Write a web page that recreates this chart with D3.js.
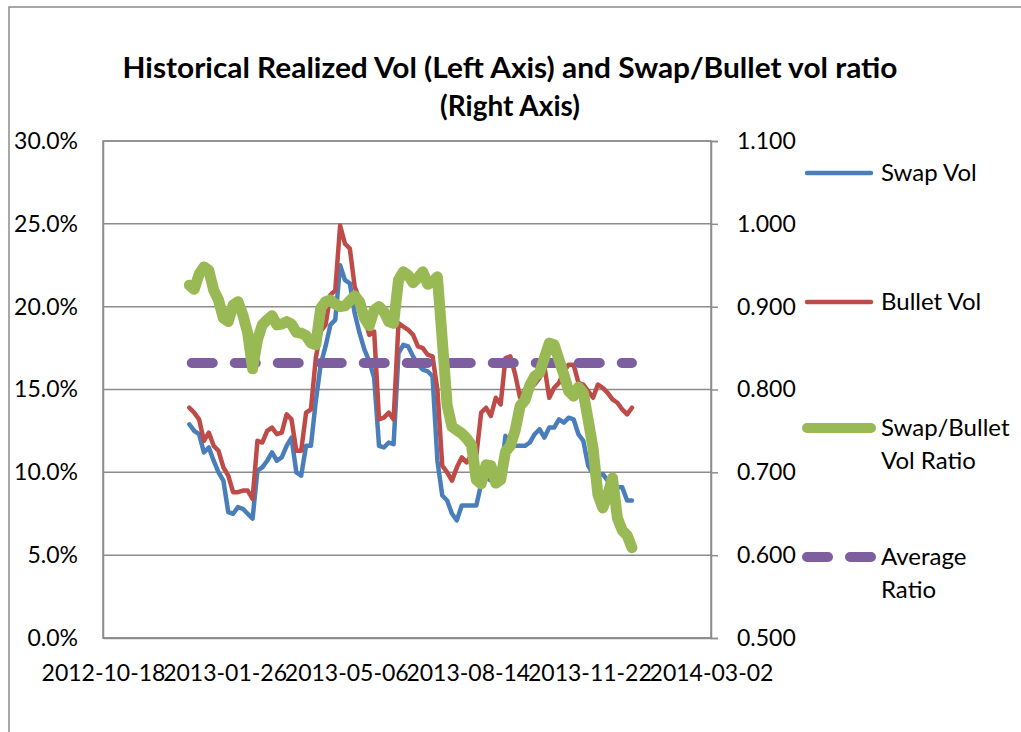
<!DOCTYPE html>
<html><head><meta charset="utf-8">
<script src="https://cdn.jsdelivr.net/npm/d3@7"></script>
<style>
body{margin:0;background:#fff}
svg{display:block}
text{font-family:Lato,'Open Sans',sans-serif;fill:#000}
</style>
</head><body>
<svg id="c" width="1021" height="732"></svg>
<script>
const dates = [
"2012-12-28","2013-01-01","2013-01-05","2013-01-09","2013-01-13","2013-01-17","2013-01-21","2013-01-25","2013-01-29","2013-02-02",
"2013-02-06","2013-02-10","2013-02-14","2013-02-18","2013-02-22","2013-02-26","2013-03-02","2013-03-06","2013-03-10","2013-03-14",
"2013-03-18","2013-03-22","2013-03-26","2013-03-30","2013-04-03","2013-04-07","2013-04-11","2013-04-15","2013-04-19","2013-04-23",
"2013-04-27","2013-05-01","2013-05-05","2013-05-09","2013-05-13","2013-05-17","2013-05-21","2013-05-25","2013-05-29","2013-06-02",
"2013-06-06","2013-06-10","2013-06-14","2013-06-18","2013-06-22","2013-06-26","2013-06-30","2013-07-04","2013-07-08","2013-07-12",
"2013-07-16","2013-07-20","2013-07-24","2013-07-28","2013-08-01","2013-08-05","2013-08-09","2013-08-13","2013-08-17","2013-08-21",
"2013-08-25","2013-08-29","2013-09-02","2013-09-06","2013-09-10","2013-09-14","2013-09-18","2013-09-22","2013-09-26","2013-09-30",
"2013-10-04","2013-10-08","2013-10-12","2013-10-16","2013-10-20","2013-10-24","2013-10-28","2013-11-01","2013-11-05","2013-11-09",
"2013-11-13","2013-11-17","2013-11-21","2013-11-25","2013-11-29","2013-12-03","2013-12-07","2013-12-11","2013-12-15","2013-12-19",
"2013-12-23","2013-12-27"];

// Swap Vol (%), left axis
const swapVol = [
12.9,12.5,12.3,11.2,11.5,10.7,10.0,9.5,7.6,7.5,
7.9,7.8,7.5,7.2,10.1,10.3,10.7,11.2,10.7,10.9,
11.6,12.1,10.0,9.8,11.6,11.6,14.3,16.5,17.6,18.9,
19.2,22.5,21.6,21.4,19.6,18.4,17.4,16.7,15.7,11.6,
11.5,11.8,11.7,17.2,17.7,17.6,17.0,16.5,16.2,16.1,
15.8,10.7,8.6,8.3,7.5,7.1,8.0,8.0,8.0,8.0,
9.3,9.7,9.5,9.8,9.8,12.2,11.6,11.6,11.6,11.6,
11.8,12.3,12.6,12.1,12.7,12.7,13.2,13.0,13.3,13.2,
12.3,11.9,10.4,9.9,9.8,9.9,9.5,9.2,9.1,9.1,
8.3,8.3];

// Bullet Vol (%), left axis
const bulletVol = [
13.9,13.6,13.2,11.9,12.4,11.6,11.3,10.3,9.8,8.8,
8.8,8.9,8.9,8.4,11.9,11.8,12.5,12.7,12.3,12.4,
13.5,13.2,11.3,11.3,13.6,13.8,16.9,18.5,18.9,20.7,
21.0,24.9,23.8,23.5,21.2,20.4,19.3,18.3,18.5,13.2,
13.3,13.6,13.2,19.0,18.8,18.6,18.3,17.6,17.5,17.1,
17.0,15.0,10.4,10.0,9.5,10.3,10.9,10.6,11.0,11.0,
13.6,13.9,13.4,14.5,14.1,16.9,17.0,15.9,14.5,15.0,
15.4,15.3,15.7,16.4,14.5,15.1,15.4,16.1,16.5,16.5,
15.4,15.3,14.9,14.5,15.3,15.1,14.8,14.4,14.2,13.8,
13.5,13.9];

// Swap/Bullet Vol Ratio, right axis
const volRatio = [
0.926,0.921,0.939,0.948,0.944,0.920,0.908,0.886,0.882,0.902,
0.906,0.890,0.868,0.825,0.860,0.878,0.884,0.889,0.878,0.879,
0.882,0.879,0.869,0.868,0.865,0.856,0.854,0.898,0.906,0.908,
0.903,0.900,0.901,0.907,0.913,0.906,0.886,0.877,0.896,0.900,
0.894,0.882,0.880,0.932,0.942,0.938,0.929,0.935,0.942,0.927,
0.930,0.936,0.860,0.781,0.755,0.751,0.747,0.741,0.733,0.691,
0.686,0.709,0.708,0.687,0.691,0.725,0.732,0.751,0.780,0.787,
0.805,0.816,0.820,0.838,0.856,0.854,0.836,0.818,0.798,0.792,
0.803,0.796,0.763,0.729,0.673,0.657,0.673,0.693,0.645,0.630,
0.624,0.609];

const avgRatio = 0.832;
const avgDates = ["2012-12-30","2013-12-27"];

const xTickLabels = ["2012-10-18","2013-01-26","2013-05-06","2013-08-14","2013-11-22","2014-03-02"];
const leftTicks = [0,5,10,15,20,25,30];
const rightTicks = [0.5,0.6,0.7,0.8,0.9,1.0,1.1];
const titleLines = ["Historical Realized Vol (Left Axis) and Swap/Bullet vol ratio","(Right Axis)"];
const legendItems = [
  {key:"swap", lines:["Swap Vol"]},
  {key:"bullet", lines:["Bullet Vol"]},
  {key:"ratio", lines:["Swap/Bullet","Vol Ratio"]},
  {key:"avg", lines:["Average","Ratio"]}
];

const colors = {swap:"#4A7EBB", bullet:"#BE4B48", ratio:"#98B954", avg:"#7D5FA0"};
const widths = {swap:4.5, bullet:4.5, ratio:11, avg:10};
const dashes = {avg:"21,22"};
const gridColor = "#8c8c8c";

const parse = d3.timeParse("%Y-%m-%d");
const fmt = d3.timeFormat("%Y-%m-%d");
const svg = d3.select("#c");

const P = {l:103, r:711, t:141, b:638};
const x = d3.scaleTime().domain([parse(xTickLabels[0]), parse(xTickLabels[xTickLabels.length-1])]).range([P.l, P.r]);
const yL = d3.scaleLinear().domain([0,30]).range([P.b, P.t]);
const yR = d3.scaleLinear().domain([0.5,1.1]).range([P.b, P.t]);

// outer chart border
svg.append("rect").attr("x",9).attr("y",7).attr("width",1100).attr("height",800)
  .attr("fill","none").attr("stroke",gridColor).attr("stroke-width",1.5);

// title
const tt = svg.append("text").attr("text-anchor","middle").attr("font-weight","bold").attr("font-size",28);
tt.append("tspan").attr("x",510).attr("y",78).attr("textLength",775).attr("lengthAdjust","spacingAndGlyphs").text(titleLines[0]);
tt.append("tspan").attr("x",510).attr("y",116).text(titleLines[1]);

// gridlines
svg.append("g").selectAll("line").data(leftTicks).join("line")
  .attr("x1",P.l).attr("x2",P.r).attr("y1",d=>yL(d)).attr("y2",d=>yL(d))
  .attr("stroke",gridColor).attr("stroke-width",1.5);
// plot border
svg.append("rect").attr("x",P.l).attr("y",P.t).attr("width",P.r-P.l).attr("height",P.b-P.t)
  .attr("fill","none").attr("stroke",gridColor).attr("stroke-width",1.5);

// axes
const axL = svg.append("g").attr("transform",`translate(${P.l},0)`)
  .call(d3.axisLeft(yL).tickValues(leftTicks).tickFormat(d=>d.toFixed(1)+"%").tickSize(0).tickPadding(25));
const axR = svg.append("g").attr("transform",`translate(${P.r},0)`)
  .call(d3.axisRight(yR).tickValues(rightTicks).tickFormat(d3.format(".3f")).tickSize(7).tickPadding(19));
const axB = svg.append("g").attr("transform",`translate(0,${P.b})`)
  .call(d3.axisBottom(x).tickValues(xTickLabels.map(parse)).tickFormat(fmt).tickSize(0).tickPadding(27));
[axL,axR,axB].forEach(a=>{
  a.select(".domain").attr("stroke",gridColor).attr("stroke-width",1.5);
  a.selectAll(".tick line").attr("stroke",gridColor).attr("stroke-width",1.5);
  a.selectAll("text").attr("font-size",23).attr("font-family","Lato,'Open Sans',sans-serif").attr("fill","#000");
});

// series
const rows = dates.map((d,i)=>({date:parse(d), swap:swapVol[i], bullet:bulletVol[i], ratio:volRatio[i]}));
const lineL = k => d3.line().x(d=>x(d.date)).y(d=>yL(d[k]));
const lineR = k => d3.line().x(d=>x(d.date)).y(d=>yR(d[k]));
function draw(path, key){
  svg.append("path").attr("d",path).attr("fill","none").attr("stroke",colors[key])
    .attr("stroke-width",widths[key]).attr("stroke-linejoin","round").attr("stroke-linecap","round")
    .attr("stroke-dasharray",dashes[key]||null);
}
draw(lineL("swap")(rows),"swap");
draw(lineL("bullet")(rows),"bullet");
draw(d3.line().x(d=>x(parse(d))).y(()=>yR(avgRatio))(avgDates),"avg");
draw(lineR("ratio")(rows),"ratio");

// legend
const legY = [173,302,428,557];
legendItems.forEach((it,i)=>{
  const y = legY[i];
  svg.append("line").attr("x1",807).attr("x2",871).attr("y1",y).attr("y2",y)
    .attr("stroke",colors[it.key]).attr("stroke-width",widths[it.key]>=10?10:4.5)
    .attr("stroke-linecap","round").attr("stroke-dasharray",dashes[it.key]||null);
  const t = svg.append("text").attr("font-size",24);
  it.lines.forEach((s,j)=>{
    t.append("tspan").attr("x",881).attr("y",y+8+j*33).text(s);
  });
});
</script>
</body></html>
